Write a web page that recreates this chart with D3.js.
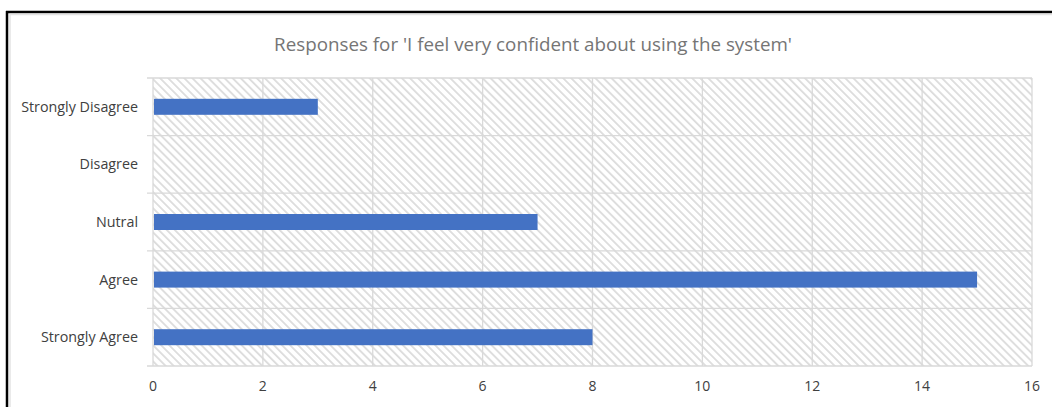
<!DOCTYPE html>
<html>
<head>
<meta charset="utf-8">
<script src="https://cdn.jsdelivr.net/npm/d3@7"></script>
<style>
  html, body { margin: 0; padding: 0; background: #fff; }
  svg { display: block; }
</style>
</head>
<body>
<svg id="chart" width="1052" height="407"></svg>
<script>
// Survey responses, listed top to bottom
const categories = ["Strongly Disagree", "Disagree", "Nutral", "Agree", "Strongly Agree"];
const counts = [3, 0, 7, 15, 8];
const xTicks = [0, 2, 4, 6, 8, 10, 12, 14, 16];
const title = "Responses for 'I feel very confident about using the system'";

const svg = d3.select("#chart");
const W = 1052, H = 407;
const plot = { left: 153, right: 1032, top: 78, bottom: 366 };
const font = "'Open Sans', 'Noto Sans', sans-serif";

// Downward diagonal hatch fill for the plot area
const defs = svg.append("defs");
const step = 5.7;
const pat = defs.append("pattern")
  .attr("id", "hatch")
  .attr("patternUnits", "userSpaceOnUse")
  .attr("width", step).attr("height", step)
  .attr("patternTransform", "rotate(-45)");
pat.append("rect").attr("width", step).attr("height", step).attr("fill", "#ffffff");
pat.append("rect").attr("x", 0).attr("y", 0).attr("width", 1.8).attr("height", step).attr("fill", "#dcdcdc");

// Outer frame (left and top edges)
svg.append("line").attr("x1", 7).attr("x2", 7).attr("y1", 11).attr("y2", H)
  .attr("stroke", "#000").attr("stroke-width", 2.5);
svg.append("line").attr("x1", 6).attr("x2", W).attr("y1", 12).attr("y2", 12)
  .attr("stroke", "#000").attr("stroke-width", 2.5);
svg.append("line").attr("x1", 10).attr("x2", 10).attr("y1", 14).attr("y2", H)
  .attr("stroke", "#e3e3e3").attr("stroke-width", 1.5);
svg.append("line").attr("x1", 10).attr("x2", W).attr("y1", 14.5).attr("y2", 14.5)
  .attr("stroke", "#e3e3e3").attr("stroke-width", 1.5);

const x = d3.scaleLinear().domain([0, 16]).range([plot.left, plot.right]);
const y = d3.scaleBand().domain(categories).range([plot.top, plot.bottom]).paddingInner(0).paddingOuter(0);

svg.append("rect")
  .attr("x", plot.left).attr("y", plot.top)
  .attr("width", plot.right - plot.left).attr("height", plot.bottom - plot.top)
  .attr("fill", "url(#hatch)");

// Vertical gridlines
svg.append("g")
  .selectAll("line").data(xTicks).join("line")
  .attr("x1", d => x(d)).attr("x2", d => x(d))
  .attr("y1", plot.top).attr("y2", plot.bottom)
  .attr("stroke", "#d9d9d9").attr("stroke-width", 1.3);

// Horizontal band boundaries with outward tick marks
const bounds = categories.map(c => y(c)).concat([plot.bottom]);
svg.append("g")
  .selectAll("line").data(bounds).join("line")
  .attr("x1", plot.left - 6).attr("x2", plot.right)
  .attr("y1", d => d).attr("y2", d => d)
  .attr("stroke", "#d9d9d9").attr("stroke-width", 1.3);

// Bars
const barH = 16;
svg.append("g")
  .selectAll("rect").data(categories.map((c, i) => ({ c, v: counts[i] }))).join("rect")
  .attr("x", x(0) + 1)
  .attr("y", d => y(d.c) + y.bandwidth() / 2 - barH / 2)
  .attr("width", d => Math.max(0, x(d.v) - x(0) - 1))
  .attr("height", barH)
  .attr("fill", "#4472c4");

// Category labels
svg.append("g")
  .selectAll("text").data(categories).join("text")
  .attr("x", plot.left - 15)
  .attr("y", d => y(d) + y.bandwidth() / 2)
  .attr("dy", "0.35em")
  .attr("text-anchor", "end")
  .attr("font-family", font).attr("font-size", 14.3)
  .attr("fill", "#404040")
  .text(d => d);

// Value axis labels
svg.append("g")
  .selectAll("text").data(xTicks).join("text")
  .attr("x", d => x(d))
  .attr("y", 386)
  .attr("dy", "0.35em")
  .attr("text-anchor", "middle")
  .attr("font-family", font).attr("font-size", 14)
  .attr("fill", "#404040")
  .text(d => d);

// Title
svg.append("text")
  .attr("x", 533).attr("y", 44)
  .attr("dy", "0.35em")
  .attr("text-anchor", "middle")
  .attr("font-family", font).attr("font-size", 18.8)
  .attr("fill", "#757575")
  .text(title);
</script>
</body>
</html>
